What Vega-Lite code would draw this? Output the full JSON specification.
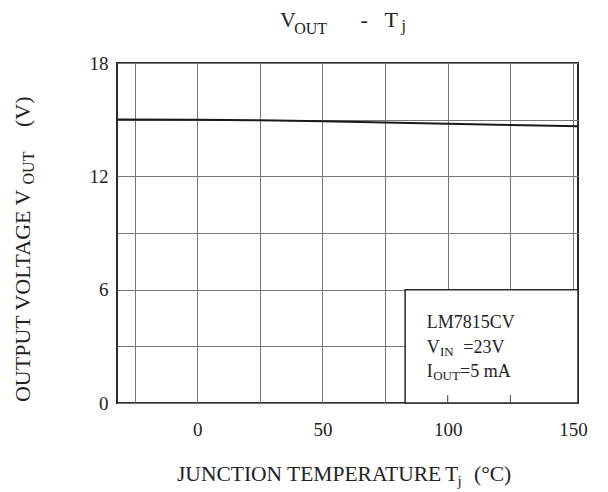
{
  "$schema": "https://vega.github.io/schema/vega-lite/v6.json",
  "width": 461,
  "height": 340,
  "autosize": {"type": "none"},
  "padding": {"left": 117, "top": 63, "right": 30, "bottom": 89},
  "background": "white",
  "config": {
    "view": {"stroke": "#2a2a2a", "strokeWidth": 2},
    "font": "Liberation Serif",
    "text": {"font": "Liberation Serif", "color": "#222"}
  },
  "datasets": {
    "curve": [
      {"x": -32, "y": 15.01},
      {"x": 0, "y": 15.0},
      {"x": 25, "y": 14.97},
      {"x": 50, "y": 14.92},
      {"x": 75, "y": 14.85},
      {"x": 100, "y": 14.78},
      {"x": 125, "y": 14.72},
      {"x": 152, "y": 14.65}
    ],
    "ticks": [
      {"x": 100, "y": 0, "y2": 0.42},
      {"x": 125, "y": 0, "y2": 0.42}
    ],
    "titleMain": [
      {"x": 33.1, "y": 19.92, "t": "V"},
      {"x": 65.2, "y": 19.92, "t": "-"},
      {"x": 74.8, "y": 19.92, "t": "T"}
    ],
    "titleSub": [
      {"x": 38.7, "y": 19.53, "t": "OUT"},
      {"x": 81.6, "y": 19.69, "t": "j"}
    ],
    "xTitleMain": [
      {"x": -8.05, "y": -4.11, "t": "JUNCTION TEMPERATURE"},
      {"x": 98.9, "y": -4.11, "t": "T"},
      {"x": 110.5, "y": -4.11, "t": "(°C)"}
    ],
    "xTitleSub": [
      {"x": 103.9, "y": -4.39, "t": "j"}
    ],
    "yTitleMain": [
      {"x": -66.9, "y": 0.05, "t": "OUTPUT VOLTAGE V"},
      {"x": -66.9, "y": 14.61, "t": "(V)"}
    ],
    "yTitleSub": [
      {"x": -65.3, "y": 11.57, "t": "OUT"}
    ],
    "legMain": [
      {"x": 91.6, "y": 3.99, "t": "LM7815CV"},
      {"x": 91.6, "y": 2.66, "t": "V"},
      {"x": 106.2, "y": 2.66, "t": "=23V"},
      {"x": 91.6, "y": 1.39, "t": "I"},
      {"x": 104.9, "y": 1.39, "t": "=5 mA"}
    ],
    "legSub": [
      {"x": 96.9, "y": 2.49, "t": "IN"},
      {"x": 94.2, "y": 1.22, "t": "OUT"}
    ]
  },
  "layer": [
    {
      "data": {"name": "curve"},
      "mark": {"type": "line", "color": "#1a1a1a", "strokeWidth": 2},
      "encoding": {
        "x": {
          "field": "x", "type": "quantitative",
          "scale": {"domain": [-32, 152], "nice": false, "zero": false},
          "axis": {
            "values": [-25, 0, 25, 50, 75, 100, 125, 150],
            "labelExpr": "datum.value % 50 === 0 ? datum.label : ''",
            "grid": true, "gridColor": "#777", "gridWidth": 1, "gridOpacity": 1,
            "ticks": false, "domain": false, "title": null,
            "labelFont": "Liberation Serif", "labelFontSize": 19, "labelColor": "#222",
            "labelPadding": 17, "labelFlush": false, "labelOverlap": false
          }
        },
        "y": {
          "field": "y", "type": "quantitative",
          "scale": {"domain": [0, 18], "nice": false, "zero": false},
          "axis": {
            "values": [0, 3, 6, 9, 12, 15, 18],
            "labelExpr": "datum.value % 6 === 0 ? datum.label : ''",
            "grid": true, "gridColor": "#777", "gridWidth": 1, "gridOpacity": 1,
            "ticks": false, "domain": false, "title": null,
            "labelFont": "Liberation Serif", "labelFontSize": 19, "labelColor": "#222",
            "labelPadding": 9, "labelFlush": false, "labelOverlap": false
          }
        }
      }
    },
    {
      "data": {"values": [{}]},
      "mark": {"type": "rect", "fill": "white", "stroke": "#2a2a2a", "strokeWidth": 1.5},
      "encoding": {
        "x": {"datum": 83, "type": "quantitative"},
        "x2": {"datum": 152},
        "y": {"datum": 0, "type": "quantitative"},
        "y2": {"datum": 6}
      }
    },
    {
      "data": {"name": "ticks"},
      "mark": {"type": "rule", "color": "#444", "strokeWidth": 1},
      "encoding": {
        "x": {"field": "x", "type": "quantitative"},
        "y": {"field": "y", "type": "quantitative"},
        "y2": {"field": "y2"}
      }
    },
    {
      "data": {"name": "titleMain"},
      "mark": {"type": "text", "align": "left", "baseline": "alphabetic", "fontSize": 22},
      "encoding": {
        "x": {"field": "x", "type": "quantitative"},
        "y": {"field": "y", "type": "quantitative"},
        "text": {"field": "t"}
      }
    },
    {
      "data": {"name": "titleSub"},
      "mark": {"type": "text", "align": "left", "baseline": "alphabetic", "fontSize": 16},
      "encoding": {
        "x": {"field": "x", "type": "quantitative"},
        "y": {"field": "y", "type": "quantitative"},
        "text": {"field": "t"}
      }
    },
    {
      "data": {"name": "xTitleMain"},
      "mark": {"type": "text", "align": "left", "baseline": "alphabetic", "fontSize": 21.5},
      "encoding": {
        "x": {"field": "x", "type": "quantitative"},
        "y": {"field": "y", "type": "quantitative"},
        "text": {"field": "t"}
      }
    },
    {
      "data": {"name": "xTitleSub"},
      "mark": {"type": "text", "align": "left", "baseline": "alphabetic", "fontSize": 15},
      "encoding": {
        "x": {"field": "x", "type": "quantitative"},
        "y": {"field": "y", "type": "quantitative"},
        "text": {"field": "t"}
      }
    },
    {
      "data": {"name": "yTitleMain"},
      "mark": {"type": "text", "align": "left", "baseline": "alphabetic", "fontSize": 22, "angle": 270},
      "encoding": {
        "x": {"field": "x", "type": "quantitative"},
        "y": {"field": "y", "type": "quantitative"},
        "text": {"field": "t"}
      }
    },
    {
      "data": {"name": "yTitleSub"},
      "mark": {"type": "text", "align": "left", "baseline": "alphabetic", "fontSize": 16, "angle": 270},
      "encoding": {
        "x": {"field": "x", "type": "quantitative"},
        "y": {"field": "y", "type": "quantitative"},
        "text": {"field": "t"}
      }
    },
    {
      "data": {"name": "legMain"},
      "mark": {"type": "text", "align": "left", "baseline": "alphabetic", "fontSize": 18},
      "encoding": {
        "x": {"field": "x", "type": "quantitative"},
        "y": {"field": "y", "type": "quantitative"},
        "text": {"field": "t"}
      }
    },
    {
      "data": {"name": "legSub"},
      "mark": {"type": "text", "align": "left", "baseline": "alphabetic", "fontSize": 13},
      "encoding": {
        "x": {"field": "x", "type": "quantitative"},
        "y": {"field": "y", "type": "quantitative"},
        "text": {"field": "t"}
      }
    }
  ]
}
